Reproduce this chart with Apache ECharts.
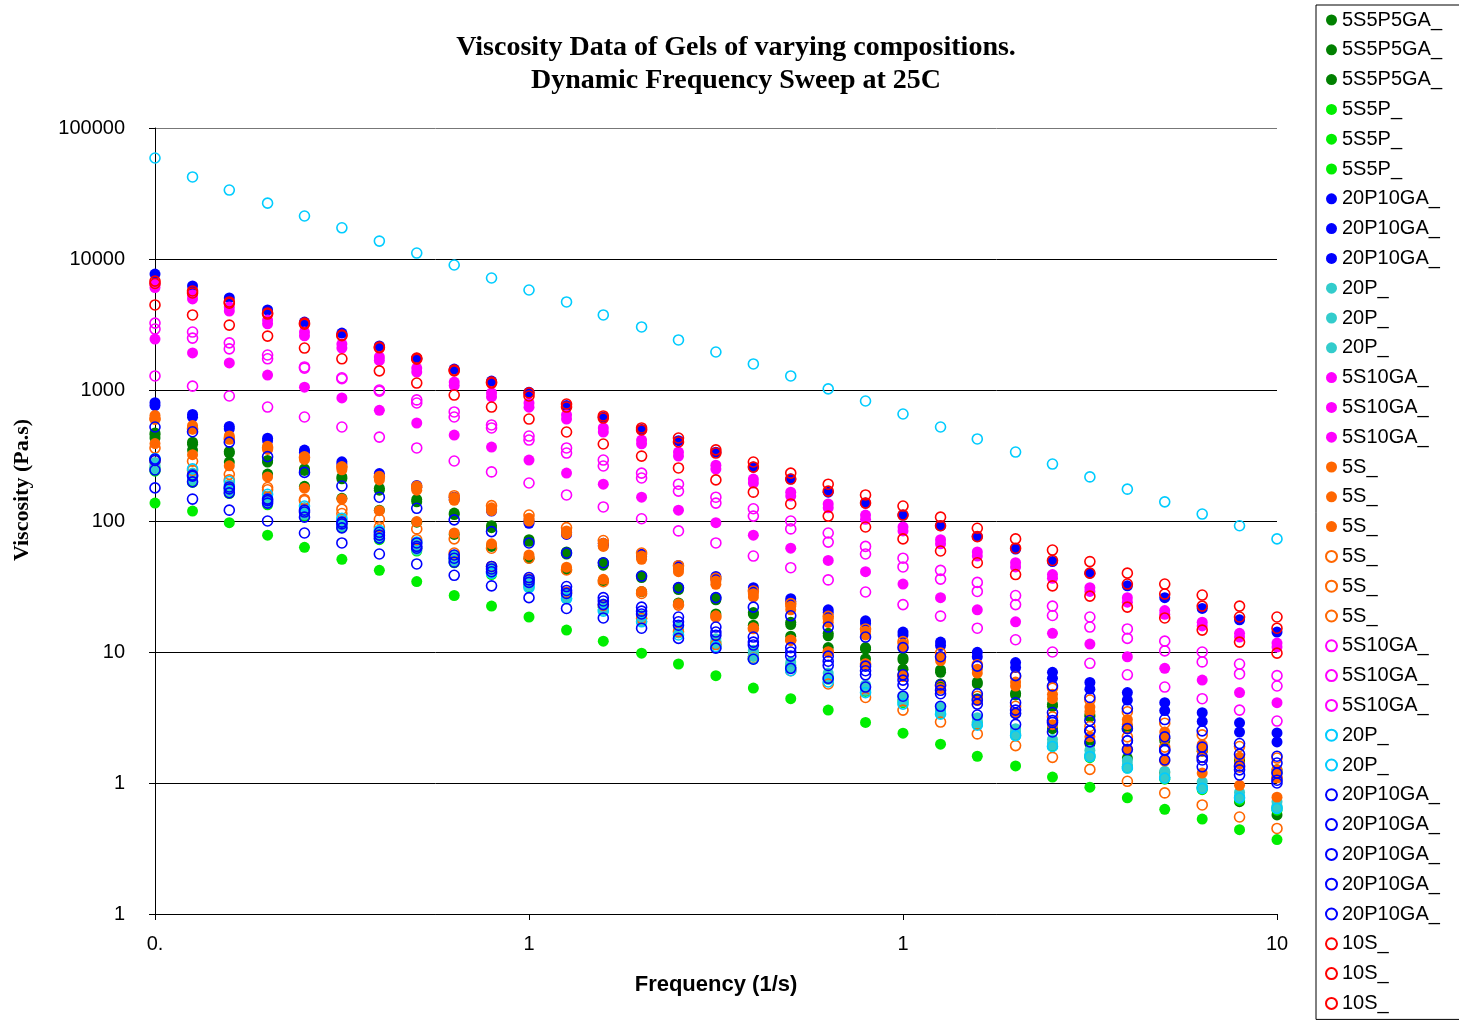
<!DOCTYPE html>
<html><head><meta charset="utf-8">
<script src="https://cdn.jsdelivr.net/npm/echarts@6/dist/echarts.min.js"></script>
<style>html,body{margin:0;padding:0;background:#fff}#c{width:1459px;height:1021px}</style>
</head><body><div id="c"></div>
<script>
// Frequency (1/s)
const frequency = [0.01,0.0126,0.0158,0.02,0.0251,0.0316,0.0398,0.0501,0.0631,0.0794,0.1,0.126,0.158,0.2,0.251,0.316,0.398,0.501,0.631,0.794,1,1.26,1.58,2,2.51,3.16,3.98,5.01,6.31,7.94,10];
const xTickLabels = ['0.', '1', '1', '10'];          // for 0.01, 0.1, 1, 10
const yTickLabels = ['1', '1', '10', '100', '1000', '10000', '100000']; // for 0.1 ... 100000

// Viscosity (Pa.s) series, in legend order
const s5S5P5GA_1 = [470,400,340,290,250,217,178,146,115,92,72,58,48,38,31,26,20,16.9,13.9,10.8,9.0,7.3,5.9,4.85,4.0,3.3,2.7,2.2,1.8,1.5,1.26];
const s5S5P5GA_2 = [430,348,282,228,184,149,121,98,79,64,52,42.7,35.1,28.9,23.7,19.5,16.0,13.2,10.8,8.9,7.4,5.7,4.4,3.4,2.6,2.0,1.55,1.2,0.92,0.72,0.57];
const s5S5P5GA_3 = [455,385,330,282,243,210,172,140,112,89,70,56,46,37,30,25,19.5,16.2,13.3,10.5,8.7,7.0,5.7,4.7,3.85,3.2,2.6,2.1,1.75,1.45,1.2];
const s5S5P_1 = [137,119,97,78,63,51,42,34.5,27,22.4,18.5,14.7,12.1,9.8,8.1,6.6,5.3,4.4,3.6,2.9,2.4,1.98,1.6,1.35,1.11,0.93,0.77,0.63,0.53,0.44,0.37];
const s5S5P_2 = [255,210,172,141,115,94,76,62,50,41,33,27,22,18,14.6,11.9,9.7,7.9,6.4,5.2,4.3,3.5,2.9,2.4,1.95,1.62,1.34,1.1,0.92,0.77,0.65];
const s5S5P_3 = [240,197,162,133,109,89,72,59,48,39,31.5,25.7,21,17.1,14,11.4,9.3,7.6,6.2,5.0,4.1,3.4,2.8,2.3,1.9,1.56,1.3,1.07,0.89,0.74,0.62];
const s20P10GA_f1 = [7670,6220,5040,4080,3300,2720,2170,1750,1445,1170,960,760,620,500,410,335,258,209,166,137,111,92,76,61,49,40,32,26,21.5,17.6,14.2];
const s20P10GA_f2 = [800,650,527,429,348,283,230,187,152,123,100,82,67.6,55.7,45.8,37.7,31,25.5,21,17.3,14.2,11.9,9.95,8.3,7.0,5.85,4.9,4.1,3.44,2.88,2.41];
const s20P10GA_f3 = [760,620,505,410,335,272,221,180,146,119,96,79,65,53.5,44,36,29.7,24.4,20,16.5,13.5,11.2,9.2,7.6,6.3,5.2,4.3,3.57,2.95,2.45,2.06];
const s20P_f1 = [280,232,190,155,127,103,84,68,55,44,35,28.5,23.2,19,15.5,12.6,10.3,8.4,6.9,5.6,4.6,3.8,3.15,2.6,2.15,1.78,1.48,1.23,1.02,0.85,0.72];
const s20P_f2 = [265,218,178,146,119,97,79,64,52,42,33,27,22,18,14.7,12,9.8,8.0,6.5,5.3,4.35,3.6,2.95,2.45,2.0,1.66,1.38,1.15,0.95,0.8,0.67];
const s20P_f3 = [250,205,168,137,112,91,74,60,49,40,32,26,21,17.2,14,11.4,9.3,7.6,6.2,5.1,4.2,3.45,2.85,2.35,1.95,1.6,1.33,1.1,0.92,0.77,0.64];
const s5S10GA_f1 = [6440,5310,4300,3420,2770,2240,1790,1470,1150,950,796,646,513,415,336,267,209,166,135,111,90,72,58,48,39,31,26,20.7,16.9,13.9,11.7];
const s5S10GA_f2 = [6050,4960,4010,3200,2590,2090,1680,1370,1080,885,740,600,478,388,313,249,195,155,126,103,84,67,54,44.6,36.5,29,24,19.4,15.8,13,10.9];
const s5S10GA_f3 = [2450,1920,1610,1300,1050,870,700,560,453,367,292,232,191,152,121,97,78,62,50,41,33,26,21,17,13.9,11.5,9.2,7.5,6.1,4.9,4.1];
const s5S_f1 = [640,535,446,372,311,259,216,181,151,126,105,84,67.5,54,43.4,34.8,27.9,22.3,17.9,14.4,11.5,9.2,7.4,5.9,4.75,3.8,3.05,2.45,1.96,1.57,1.26];
const s5S_f2 = [600,502,420,352,295,246,206,172,144,120,100,80,64,51,41,32.9,26.3,21,16.8,13.5,10.8,8.6,6.9,5.5,4.4,3.5,2.8,2.2,1.75,1.4,1.1];
const s5S_f3 = [390,321,264,217,178,147,120,99,81,67,55,44.4,35.9,29,23.4,18.9,15.3,12.3,9.96,8.05,6.5,5.26,4.26,3.44,2.79,2.25,1.82,1.47,1.19,0.96,0.78];
const s5S_o1 = [600,507,428,362,305,258,218,184,156,131,111,89,71,57,45.6,36.5,29.2,23.4,18.7,15,12,9.8,8.0,6.5,5.3,4.3,3.5,2.86,2.33,1.9,1.55];
const s5S_o2 = [290,244,206,173,146,123,103,87,73,62,52,42.3,34.4,28,22.8,18.5,15.1,12.3,10,8.1,6.6,5.5,4.6,3.85,3.2,2.7,2.25,1.88,1.57,1.32,1.1];
const s5S_o3 = [360,286,227,180,143,114,90,72,57,45,36,28.6,22.7,18,14.3,11.4,9.0,7.2,5.7,4.5,3.6,2.92,2.37,1.93,1.57,1.27,1.03,0.84,0.68,0.55,0.45];
const s5S10GA_o1 = [3240,2770,2290,1850,1500,1240,1000,840,680,541,445,361,292,232,191,152,124,100,81,64,52,42,34,27,22.4,18.5,15,12.1,10,8.1,6.6];
const s5S10GA_o2 = [2920,2490,2060,1730,1470,1220,980,796,622,513,415,330,263,213,169,137,109,87,69,56,44.6,36,29,23,19,15.5,12.7,10.2,8.4,6.8,5.5];
const s5S10GA_o3 = [1280,1070,900,741,622,522,437,361,287,237,195,158,128,104,84,68,54,44,35.5,28.7,23,18.8,15.2,12.4,10,8.2,6.7,5.4,4.4,3.6,2.97];
const s20P_o1 = [59000,42300,33600,26700,21300,17300,13700,11100,9000,7160,5800,4700,3740,3030,2410,1950,1580,1280,1020,824,656,522,423,336,272,217,175,140,113,92,73];
const s20P_o2 = [300,250,200,160,130,105,85,69,52,40,31,25.5,20.5,17,13.5,11,8.9,7.2,5.9,4.9,4.0,3.35,2.76,2.3,1.9,1.59,1.3,1.09,0.91,0.77,0.64];
const s20P10GA_o1 = [290,220,176,143,117,95,78,64,52,43,35.5,29.5,24.5,20.5,17,14.2,11.9,10,8.5,7.2,6.1,5.1,4.3,3.6,3.0,2.5,2.1,1.77,1.5,1.26,1.05];
const s20P10GA_o2 = [522,480,400,310,235,185,152,125,102,83,68,57,48,38,31,26,22,18.9,15.5,13,10.8,9.2,7.8,6.6,5.5,4.5,3.7,3.05,2.5,2.0,1.6];
const s20P10GA_o3 = [297,224,182,147,121,98,82,68,55,45,37,31.6,26,22,18.5,15.5,13,10.8,9.3,7.8,6.7,5.6,4.8,4.1,3.45,3.0,2.6,2.25,1.88,1.66,1.42];
const s20P10GA_o4 = [245,199,164,137,107,88.6,74,62,48.5,41,34,28,23,19.5,16,13.4,11.3,9.3,7.9,6.7,5.6,4.8,4.0,3.4,2.9,2.5,2.1,1.8,1.58,1.35,1.19];
const s20P10GA_o5 = [179,147,121,100,81,68,56,47,38.5,32,26,21.5,18.2,15.2,12.7,10.7,8.8,7.5,6.3,5.4,4.6,3.85,3.3,2.8,2.45,2.06,1.8,1.5,1.33,1.15,1.0];
const s10S_1 = [6780,5700,4700,3870,3240,2630,2130,1750,1420,1150,950,782,634,513,430,349,282,232,191,158,130,107,88,73,60,49,40,33,27.2,22.4,18.5];
const s10S_2 = [6500,5500,4600,3800,3180,2600,2100,1720,1400,1130,900,741,611,495,401,330,258,209,169,137,111,92,76,62,50,40,33,27.7,22.4,18.5,15.2];
const s10S_3 = [4460,3740,3130,2580,2090,1730,1400,1130,915,741,600,478,387,313,254,206,166,135,109,90,73,59,48,39,32,26.7,22,18.2,14.7,11.9,9.8];

// [legend label, values, colour, filled?]
const seriesDefs = [
  ['5S5P5GA_', s5S5P5GA_1, '#008000', true],
  ['5S5P5GA_', s5S5P5GA_2, '#008000', true],
  ['5S5P5GA_', s5S5P5GA_3, '#008000', true],
  ['5S5P_', s5S5P_1, '#00EE00', true],
  ['5S5P_', s5S5P_2, '#00EE00', true],
  ['5S5P_', s5S5P_3, '#00EE00', true],
  ['20P10GA_', s20P10GA_f1, '#0000FF', true],
  ['20P10GA_', s20P10GA_f2, '#0000FF', true],
  ['20P10GA_', s20P10GA_f3, '#0000FF', true],
  ['20P_', s20P_f1, '#33CCCC', true],
  ['20P_', s20P_f2, '#33CCCC', true],
  ['20P_', s20P_f3, '#33CCCC', true],
  ['5S10GA_', s5S10GA_f1, '#FF00FF', true],
  ['5S10GA_', s5S10GA_f2, '#FF00FF', true],
  ['5S10GA_', s5S10GA_f3, '#FF00FF', true],
  ['5S_', s5S_f1, '#FF6600', true],
  ['5S_', s5S_f2, '#FF6600', true],
  ['5S_', s5S_f3, '#FF6600', true],
  ['5S_', s5S_o1, '#FF6600', false],
  ['5S_', s5S_o2, '#FF6600', false],
  ['5S_', s5S_o3, '#FF6600', false],
  ['5S10GA_', s5S10GA_o1, '#FF00FF', false],
  ['5S10GA_', s5S10GA_o2, '#FF00FF', false],
  ['5S10GA_', s5S10GA_o3, '#FF00FF', false],
  ['20P_', s20P_o1, '#00CCFF', false],
  ['20P_', s20P_o2, '#00CCFF', false],
  ['20P10GA_', s20P10GA_o1, '#0000FF', false],
  ['20P10GA_', s20P10GA_o2, '#0000FF', false],
  ['20P10GA_', s20P10GA_o3, '#0000FF', false],
  ['20P10GA_', s20P10GA_o4, '#0000FF', false],
  ['20P10GA_', s20P10GA_o5, '#0000FF', false],
  ['10S_', s10S_1, '#FF0000', false],
  ['10S_', s10S_2, '#FF0000', false],
  ['10S_', s10S_3, '#FF0000', false]
];

// unique names (legend entries repeat the same visible label)
const names = seriesDefs.map((d, i) => d[0] + ' '.repeat(i + 1));

const series = seriesDefs.map((d, i) => ({
  type: 'scatter',
  name: names[i],
  symbol: 'circle',
  symbolSize: d[3] ? 11 : 10,
  itemStyle: d[3]
    ? { color: d[2], borderWidth: 0, opacity: 1 }
    : { color: 'rgba(255,255,255,0)', borderColor: d[2], borderWidth: 1.6, opacity: 1 },
  emphasis: { disabled: true },
  data: frequency.map((f, k) => [f, d[1][k]])
}));

const chart = echarts.init(document.getElementById('c'), null, { renderer: 'canvas' });
chart.setOption({
  animation: false,
  backgroundColor: '#fff',
  title: {
    text: 'Viscosity Data of Gels of varying compositions.\nDynamic Frequency Sweep at 25C',
    left: 731, top: 26, textAlign: 'center',
    textStyle: { fontFamily: 'Liberation Serif, Times New Roman, serif', fontWeight: 'bold', fontSize: 28, lineHeight: 33, color: '#000' }
  },
  legend: {
    orient: 'vertical', left: 1316, top: 5,
    padding: [5, 60, 6, 9],
    itemGap: 9.8, itemWidth: 11, itemHeight: 11, itemTextGap: 6,
    borderColor: '#000', borderWidth: 1,
    selectedMode: false,
    textStyle: { fontFamily: 'Liberation Sans, Arial, sans-serif', fontSize: 20, lineHeight: 20, color: '#000' },
    data: names.map(n => ({ name: n, icon: 'circle' }))
  },
  grid: { left: 155, top: 128, right: 182, bottom: 107, containLabel: false },
  xAxis: {
    type: 'log', logBase: 10, min: 0.01, max: 10, splitNumber: 3,
    name: 'Frequency (1/s)', nameLocation: 'middle', nameGap: 60,
    nameTextStyle: { fontFamily: 'Liberation Sans, Arial, sans-serif', fontWeight: 'bold', fontSize: 22, color: '#000' },
    axisLine: { show: true, lineStyle: { color: '#000', width: 1 } },
    axisTick: { show: true, inside: false, length: 6, lineStyle: { color: '#000' } },
    minorTick: { show: false },
    splitLine: { show: false },
    axisLabel: {
      margin: 20, fontFamily: 'Liberation Sans, Arial, sans-serif', fontSize: 20, color: '#000',
      formatter: v => xTickLabels[Math.round(Math.log10(v)) + 2]
    }
  },
  yAxis: {
    type: 'log', logBase: 10, min: 0.1, max: 100000, splitNumber: 6,
    name: 'Viscosity (Pa.s)', nameLocation: 'middle', nameGap: 122, nameRotate: 90,
    nameTextStyle: { fontFamily: 'Liberation Serif, Times New Roman, serif', fontWeight: 'bold', fontSize: 22, color: '#000', padding: [0, 0, 0, 62] },
    axisLine: { show: true, lineStyle: { color: '#000', width: 1 } },
    axisTick: { show: true, inside: false, length: 6, lineStyle: { color: '#000' } },
    splitLine: { show: true, lineStyle: { color: ['#000', '#000', '#000', '#000', '#000', '#000', '#777'], width: 1 } },
    axisLabel: {
      margin: 30, fontFamily: 'Liberation Sans, Arial, sans-serif', fontSize: 20, color: '#000',
      formatter: v => yTickLabels[Math.round(Math.log10(v)) + 1]
    }
  },
  series: series
});
</script>
</body></html>
